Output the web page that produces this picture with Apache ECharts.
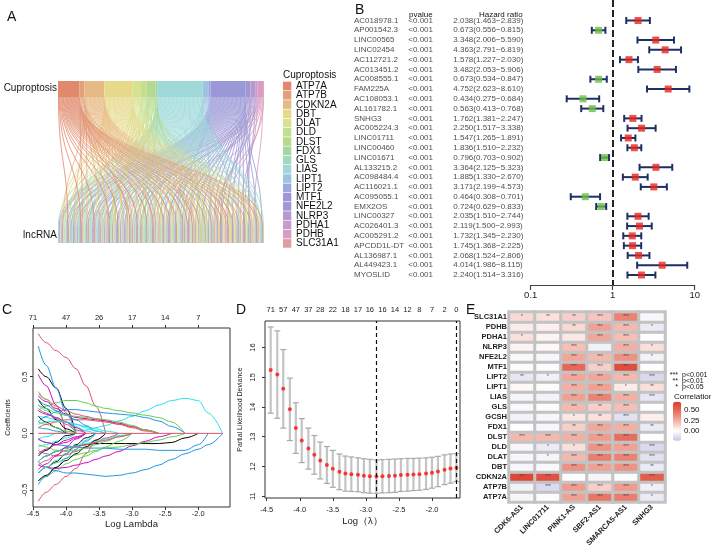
<!DOCTYPE html>
<html>
<head>
<meta charset="utf-8">
<script src="https://cdn.jsdelivr.net/npm/echarts@6/dist/echarts.min.js"></script>
<style>
  html, body { margin: 0; padding: 0; background: #fff; }
  #chart { width: 711px; height: 545px; }
</style>
</head>
<body>
<div id="chart"></div>
<script>
// ---------- A: cuproptosis genes -> lncRNA (alluvial)
const genes = ['ATP7A', 'ATP7B', 'CDKN2A', 'DBT', 'DLAT', 'DLD', 'DLST', 'FDX1', 'GLS', 'LIAS',
  'LIPT1', 'LIPT2', 'MTF1', 'NFE2L2', 'NLRP3', 'PDHA1', 'PDHB', 'SLC31A1'];
const geneColors = ['#E0896C', '#E4A07C', '#E7B985', '#E6D98C', '#D6E290', '#C3DE8E', '#B5D98E', '#A6D6A0',
  '#A0D8C0', '#9ED9D8', '#9EC2E2', '#9DA9DE', '#9A98D6', '#A297D2', '#B49ACE', '#C79CCD', '#D99CC5', '#E09CA3'];
const lncCount = 100;
// which lncRNAs (0..99, left to right at the bottom) each gene is linked to
const geneTargets = [
  [4, 10, 16, 24, 28, 34, 38, 43, 46, 51, 54, 57, 60, 62, 64, 67, 70, 73, 76, 78, 81, 84, 87, 90, 93, 96, 99],
  [11, 33, 47, 65, 80, 97],
  [2, 7, 13, 19, 23, 27, 31, 35, 40, 45, 49, 53, 56, 59, 63, 65, 68, 71, 74, 77, 80, 83, 86, 89, 94],
  [1, 2, 5, 8, 11, 14, 17, 20, 22, 26, 30, 33, 36, 39, 41, 44, 47, 50, 52, 55, 58, 61, 63, 66, 69, 72, 75, 76, 79, 82, 85, 88, 91, 94, 97],
  [3, 12, 21, 29, 37, 48, 57, 66, 79, 88, 95],
  [9, 26, 41, 55, 68, 85, 92],
  [6, 14, 25, 32, 42, 50, 61, 70, 82, 91, 98],
  [24, 69],
  [43],
  [0, 2, 3, 5, 6, 8, 9, 11, 12, 14, 15, 17, 18, 20, 22, 24, 26, 28, 30, 32, 34, 36, 38, 39, 41, 43, 44, 46, 47, 49,
    51, 52, 54, 55, 57, 58, 60, 61, 63, 64, 66, 67, 69, 70, 72, 73, 75, 78, 81, 84, 87, 90, 93, 96, 97, 99],
  [1, 18, 30, 44, 58, 72, 86, 95],
  [13, 56],
  [0, 1, 3, 4, 6, 7, 9, 10, 12, 13, 15, 16, 18, 19, 21, 23, 25, 27, 29, 31, 33, 35, 37, 40, 42, 45, 48, 50, 53, 56,
    59, 62, 65, 68, 71, 74, 77, 80, 83, 86, 89, 92, 95, 98],
  [5, 27, 39, 60, 77, 91],
  [8, 22, 36, 52, 75, 89],
  [20, 53, 87],
  [0, 15, 31, 46, 62, 79, 94],
  [74]
];

// ---------- B: univariate Cox
const lncNames = ['AC018978.1', 'AP001542.3', 'LINC00565', 'LINC02454', 'AC112721.2', 'AC013451.2', 'AC008555.1',
  'FAM225A', 'AC108053.1', 'AL161782.1', 'SNHG3', 'AC005224.3', 'LINC01711', 'LINC00460', 'LINC01671', 'AL133215.2',
  'AC098484.4', 'AC116021.1', 'AC095055.1', 'EMX2OS', 'LINC00327', 'AC026401.3', 'AC005291.2', 'APCDD1L-DT',
  'AL136987.1', 'AL449423.1', 'MYOSLID'];
const pvalueText = ['<0.001', '<0.001', '<0.001', '<0.001', '<0.001', '<0.001', '<0.001', '<0.001', '<0.001',
  '<0.001', '<0.001', '<0.001', '<0.001', '<0.001', '<0.001', '<0.001', '<0.001', '<0.001', '<0.001', '<0.001',
  '<0.001', '<0.001', '<0.001', '<0.001', '<0.001', '<0.001', '<0.001'];
const hr = [2.038, 0.673, 3.348, 4.363, 1.578, 3.482, 0.673, 4.752, 0.434, 0.563, 1.762, 2.250, 1.547, 1.836, 0.796,
  3.364, 1.885, 3.171, 0.464, 0.724, 2.035, 2.119, 1.732, 1.745, 2.068, 4.014, 2.240];
const hrLow = [1.463, 0.556, 2.006, 2.791, 1.227, 2.053, 0.534, 2.623, 0.275, 0.413, 1.381, 1.517, 1.265, 1.510, 0.703,
  2.125, 1.330, 2.199, 0.308, 0.629, 1.510, 1.500, 1.345, 1.368, 1.524, 1.986, 1.514];
const hrHigh = [2.839, 0.815, 5.590, 6.819, 2.030, 5.906, 0.847, 8.610, 0.684, 0.768, 2.247, 3.338, 1.891, 2.232, 0.902,
  5.323, 2.670, 4.573, 0.701, 0.833, 2.744, 2.993, 2.230, 2.225, 2.806, 8.115, 3.316];

// ---------- C: LASSO coefficient paths
const lambdaGrid = [-4.42, -4.3, -4.15, -4.0, -3.85, -3.7, -3.55, -3.4, -3.2, -3.0, -2.8, -2.6, -2.4, -2.2, -2.0, -1.85, -1.63];
const coefPaths = [
  [0.57, 0.5, 0.4, 0.22, 0],
  [0.88, 0.8, 0.73, 0.67, 0.57, 0.42, 0.24, 0],
  [0.2, 0.24, 0.27, 0.29, 0.29, 0.27, 0.24, 0.22, 0.2, 0.18, 0.16, 0.14, 0.1, 0],
  [0.77, 0.6, 0.4, 0.18, 0],
  [-0.05, -0.03, 0, 0.01, 0.02, 0.03, 0.05, 0.07, 0.11, 0.15, 0.2, 0.25, 0.29, 0.31, 0.29, 0.18, 0],
  [0.52, 0.42, 0.25, 0],

  [-0.25, -0.2, -0.16, -0.13, -0.11, -0.1, -0.09, -0.09, -0.09, -0.09, -0.09, -0.09, -0.08, -0.04, 0],
  [-0.6, -0.52, -0.45, -0.38, -0.31, -0.18, -0.06, 0],
  [-0.42, -0.38, -0.33, -0.27, -0.23, -0.2, -0.16, -0.12, -0.07, 0],
  [-0.25, -0.3, -0.33, -0.35, -0.35, -0.36, -0.37, -0.38, -0.37, -0.35, -0.32, -0.28, -0.23, -0.18, -0.14, -0.1, 0],
  [0.15, 0.14, 0.12, 0.1, 0.08, 0.06, 0.04, 0.02, 0],
  [-0.28, -0.3, -0.31, -0.3, -0.28, -0.26, -0.23, -0.2, -0.16, -0.11, -0.07, -0.03, 0],

  [0.3, 0.22, 0.12, 0.04, 0],
  [0.35, 0.3, 0.24, 0.2, 0.17, 0.15, 0.13, 0.11, 0.08, 0.05, 0.02, 0],
  [0.37, 0.3, 0.2, 0.1, 0],
  [0.1, 0.15, 0.19, 0.21, 0.21, 0.2, 0.19, 0.18, 0.17, 0.16, 0.14, 0.11, 0.06, 0],
  [-0.12, -0.1, -0.07, -0.04, 0],
  [0.33, 0.28, 0.22, 0.17, 0.14, 0.13, 0.12, 0.11, 0.09, 0.06, 0.03, 0],

  [-0.35, -0.3, -0.25, -0.18, -0.1, -0.04, 0],
  [0.22, 0.18, 0.13, 0.08, 0.03, 0],
  [-0.35, -0.3, -0.26, -0.22, -0.19, -0.17, -0.15, -0.13, -0.12, -0.1, -0.08, -0.06, -0.03, 0],
  [-0.05, -0.08, -0.1, -0.11, -0.12, -0.13, -0.13, -0.13, -0.14, -0.14, -0.14, -0.15, -0.15, -0.15, -0.1, 0],
  [0.25, 0.2, 0.14, 0.1, 0.06, 0.02, 0],
  [-0.18, -0.14, -0.1, -0.06, -0.03, 0],

  [0.15, 0.1, 0.05, 0],
  [-0.15, -0.18, -0.2, -0.19, -0.16, -0.12, -0.08, -0.04, 0],
  [0.1, 0.08, 0.05, 0.02, 0],
  [-0.45, -0.38, -0.3, -0.22, -0.14, -0.07, 0],
  [-0.25, -0.2, -0.16, -0.13, -0.11, -0.09, -0.07, -0.05, -0.02, 0],
  [0.2, 0.17, 0.14, 0.1, 0.05, 0],

  [-0.42, -0.37, -0.3, -0.24, -0.18, -0.12, -0.06, 0],
  [0.05, 0.08, 0.1, 0.12, 0.12, 0.12, 0.11, 0.1, 0.08, 0.06, 0.03, 0],
  [-0.1, -0.12, -0.15, -0.16, -0.15, -0.13, -0.1, -0.07, -0.03, 0],
  [0.3, 0.25, 0.2, 0.16, 0.12, 0.07, 0.02, 0],
  [-0.35, -0.3, -0.24, -0.18, -0.12, -0.06, 0],
  [-0.05, -0.08, -0.1, -0.08, -0.04, 0],

  [-0.2, -0.15, -0.08, -0.02, 0],
  [-0.28, -0.24, -0.19, -0.15, -0.12, -0.1, -0.08, -0.06, -0.03, 0],
  [0.25, 0.22, 0.18, 0.16, 0.15, 0.14, 0.13, 0.12, 0.1, 0.07, 0.03, 0],
  [0.05, 0.04, 0.02, 0],
  [0.08, 0.1, 0.11, 0.1, 0.08, 0.05, 0.02, 0],
  [-0.32, -0.27, -0.2, -0.12, -0.05, 0]
];
const zeroPath = [0, 0, 0, 0, 0, 0, 0, 0, 0, 0, 0, 0, 0, 0, 0, 0, 0];
const coefTicks = [-4.5, -4.0, -3.5, -3.0, -2.5, -2.0];
const coefDf = ['71', '47', '26', '17', '14', '7'];
const rPalette = ['#000000', '#DF536B', '#61D04F', '#2297E6', '#28E2E5', '#CD0BBC'];

// ---------- D: cross validation
const cvLogLambda = [-4.44, -4.34, -4.25, -4.15, -4.06, -3.97, -3.87, -3.78, -3.69, -3.59, -3.50, -3.40, -3.31,
  -3.22, -3.12, -3.03, -2.94, -2.84, -2.75, -2.65, -2.56, -2.47, -2.37, -2.28, -2.19, -2.09, -2.00, -1.91, -1.81, -1.72, -1.63];
const cvMean = [15.24, 15.09, 14.61, 13.92, 13.29, 12.87, 12.60, 12.39, 12.20, 12.05, 11.92, 11.82, 11.76, 11.74,
  11.72, 11.69, 11.67, 11.66, 11.67, 11.68, 11.69, 11.71, 11.72, 11.73, 11.74, 11.76, 11.79, 11.83, 11.89, 11.93, 11.96];
const cvSe = [1.45, 1.47, 1.32, 1.05, 0.85, 0.74, 0.69, 0.65, 0.62, 0.62, 0.62, 0.60, 0.59, 0.58, 0.57, 0.57, 0.57,
  0.56, 0.56, 0.56, 0.56, 0.55, 0.55, 0.54, 0.54, 0.53, 0.52, 0.51, 0.50, 0.49, 0.47];
const cvDfLabels = ['71', '57', '47', '37', '28', '22', '18', '17', '16', '16', '14', '12', '8', '7', '2', '0'];
const cvLines = [-2.84, -1.63];

// ---------- E: correlation heatmap (rows bottom -> top)
const heatRows = ['ATP7A', 'ATP7B', 'CDKN2A', 'DBT', 'DLAT', 'DLD', 'DLST', 'FDX1', 'GCSH', 'GLS', 'LIAS',
  'LIPT1', 'LIPT2', 'MTF1', 'NFE2L2', 'NLRP3', 'PDHA1', 'PDHB', 'SLC31A1'];
const heatCols = ['CDK6-AS1', 'LINC01711', 'PINK1-AS', 'SBF2-AS1', 'SMARCA5-AS1', 'SNHG3'];
const corrValues = [
  [-0.03, -0.01, 0.30, 0.45, 0.42, -0.08],
  [-0.05, -0.15, 0.32, 0.15, 0.32, -0.06],
  [0.65, 0.60, 0.00, -0.04, -0.01, 0.55],
  [-0.03, -0.02, 0.35, 0.30, 0.35, -0.08],
  [-0.03, -0.04, 0.22, 0.42, 0.40, -0.12],
  [-0.04, -0.08, 0.10, 0.35, 0.30, -0.15],
  [0.22, 0.22, 0.25, 0.32, 0.48, 0.00],
  [0.00, -0.03, 0.15, 0.28, 0.25, -0.08],
  [-0.05, -0.03, 0.08, 0.10, -0.12, 0.05],
  [-0.02, -0.01, 0.22, 0.15, 0.20, 0.00],
  [-0.04, -0.05, 0.30, 0.40, 0.25, -0.10],
  [0.02, -0.01, 0.25, 0.30, 0.06, 0.10],
  [-0.10, -0.06, 0.28, 0.28, 0.22, -0.15],
  [-0.01, -0.01, 0.50, 0.15, 0.62, 0.00],
  [-0.02, -0.03, 0.28, 0.22, 0.35, -0.05],
  [0.04, 0.02, 0.20, -0.05, 0.25, 0.10],
  [0.10, 0.04, 0.07, 0.28, 0.20, 0.00],
  [0.06, 0.05, 0.12, 0.30, 0.22, -0.08],
  [0.12, 0.10, 0.15, 0.18, 0.40, -0.03]
];
const corrStars = [
  ['', '', '***', '***', '***', '*'],
  ['', '***', '***', '***', '***', '*'],
  ['***', '***', '', '', '', '***'],
  ['', '', '***', '***', '***', '**'],
  ['', '*', '***', '***', '***', '***'],
  ['', '*', '*', '***', '***', '***'],
  ['***', '***', '***', '***', '***', ''],
  ['', '', '**', '***', '***', '**'],
  ['', '', '*', '**', '***', ''],
  ['', '', '***', '**', '***', ''],
  ['', '', '***', '***', '***', '***'],
  ['', '', '***', '***', '*', '**'],
  ['**', '*', '***', '***', '***', '***'],
  ['', '', '***', '***', '***', ''],
  ['', '', '***', '***', '***', '*'],
  ['', '', '***', '', '***', '*'],
  ['*', '', '', '***', '***', ''],
  ['', '', '**', '***', '***', '*'],
  ['*', '**', '**', '***', '***', '']
];
const corrTicks = [0.5, 0.25, 0];
const starKeys = ['***', '**', '*'];
const starNotes = ['p<0.001', 'p<0.01', 'p<0.05'];

const FONT = 'Liberation Sans, Arial, sans-serif';

// ---- build sankey nodes / links
const sankeyNodes = [];
const sankeyLinks = [];
genes.forEach(function (g, gi) {
  sankeyNodes.push({ name: g, itemStyle: { color: geneColors[gi] } });
});
for (let i = 0; i < lncCount; i++) {
  genes.forEach(function (g, gi) {
    if (geneTargets[gi].indexOf(i) >= 0) {
      const lode = 'lnc' + (i + 1) + '|' + g;
      sankeyNodes.push({ name: lode, itemStyle: { color: geneColors[gi] } });
      sankeyLinks.push({ source: g, target: lode, value: 1 });
    }
  });
}

// ---- renderers
function renderForestBar(params, api) {
  const lo = api.coord([api.value(0), api.value(2)]);
  const hi = api.coord([api.value(1), api.value(2)]);
  const cap = 3.5;
  const style = { stroke: '#1E2F63', lineWidth: 2 };
  return {
    type: 'group',
    children: [
      { type: 'line', shape: { x1: lo[0], y1: lo[1], x2: hi[0], y2: hi[1] }, style: style },
      { type: 'line', shape: { x1: lo[0], y1: lo[1] - cap, x2: lo[0], y2: lo[1] + cap }, style: style },
      { type: 'line', shape: { x1: hi[0], y1: hi[1] - cap, x2: hi[0], y2: hi[1] + cap }, style: style }
    ]
  };
}

function renderCvBar(params, api) {
  const top = api.coord([api.value(0), api.value(2)]);
  const bot = api.coord([api.value(0), api.value(1)]);
  const w = 3;
  const capStyle = { stroke: '#A9A9A9', lineWidth: 1.2 };
  return {
    type: 'group',
    children: [
      { type: 'line', shape: { x1: top[0], y1: top[1], x2: bot[0], y2: bot[1] }, style: { stroke: '#C4C4C4', lineWidth: 2.2 } },
      { type: 'line', shape: { x1: top[0] - w, y1: top[1], x2: top[0] + w, y2: top[1] }, style: capStyle },
      { type: 'line', shape: { x1: bot[0] - w, y1: bot[1], x2: bot[0] + w, y2: bot[1] }, style: capStyle }
    ]
  };
}

// ---- C series
const coefSeries = coefPaths.map(function (path, pi) {
  return {
    type: 'line',
    xAxisIndex: 2,
    yAxisIndex: 2,
    data: path.map(function (v, j) { return [lambdaGrid[j], v]; }),
    showSymbol: false,
    smooth: 0.35,
    smoothMonotone: 'x',
    silent: true,
    lineStyle: { width: 1, color: rPalette[pi % rPalette.length] },
    z: 3
  };
});
coefSeries.push({
  type: 'line',
  xAxisIndex: 2,
  yAxisIndex: 2,
  data: zeroPath.map(function (v, j) { return [lambdaGrid[j], v]; }),
  showSymbol: false,
  silent: true,
  lineStyle: { width: 1, color: '#DF536B' },
  z: 4
});

// ---- B table series
function tableSeries(xPos, texts) {
  return {
    type: 'scatter',
    xAxisIndex: 1,
    yAxisIndex: 1,
    symbolSize: 0,
    silent: true,
    itemStyle: { color: 'rgba(0,0,0,0)' },
    data: texts.map(function (t, i) { return [xPos, i]; }),
    label: {
      show: true,
      position: 'right',
      distance: 0,
      fontSize: 8,
      fontFamily: FONT,
      color: '#1a1a1a',
      formatter: function (p) { return texts[p.dataIndex]; }
    }
  };
}
const hrText = hr.map(function (v, i) {
  return v.toFixed(3) + '(' + hrLow[i].toFixed(3) + '\u2212' + hrHigh[i].toFixed(3) + ')';
});

const cvEven = cvLogLambda.filter(function (v, i) { return i % 2 === 0; });

// ---- graphic: labels, legends
const graphics = [];
function addText(text, x, y, size, opts) {
  graphics.push(Object.assign({
    type: 'text', x: x, y: y, silent: true,
    style: Object.assign({
      text: text, fontSize: size, fontFamily: FONT, fill: '#111',
      textAlign: 'left', textVerticalAlign: 'middle'
    }, opts || {})
  }));
}
addText('A', 7, 17, 14);
addText('B', 355, 10, 14);
addText('C', 2, 310, 14);
addText('D', 236, 310, 14);
addText('E', 466, 310, 14);
addText('Cuproptosis', 57, 88, 10, { textAlign: 'right' });
addText('lncRNA', 57, 235, 10, { textAlign: 'right' });
addText('Cuproptosis', 283, 75, 10);
genes.forEach(function (g, i) {
  const y = 81.7 + i * 9.26;
  graphics.push({ type: 'rect', silent: true, shape: { x: 283, y: y, width: 8.3, height: 8.6 }, style: { fill: geneColors[i] } });
  addText(g, 296, y + 4.6, 10);
});
addText('pvalue', 409, 15, 8);
addText('Hazard ratio', 479, 15, 8);
starKeys.forEach(function (s, i) {
  addText(s, 678, 375 + i * 6, 7, { textAlign: 'right' });
  addText(starNotes[i], 682, 375 + i * 6, 7);
});
addText('Correlation', 674, 397, 8);
corrTicks.forEach(function (v) {
  addText(v.toFixed(2), 684, 401.7 + (0.7 - v) * 42, 8);
});

const heatData = [];
corrValues.forEach(function (row, ri) {
  row.forEach(function (v, ci) {
    heatData.push({ value: [ci, ri, v], stars: corrStars[ri][ci] });
  });
});

const axisText = { fontSize: 7.5, fontFamily: FONT, color: '#222' };

const option = {
  animation: false,
  backgroundColor: '#fff',
  textStyle: { fontFamily: FONT },
  graphic: graphics,
  grid: [
    { left: 530.7, top: 0, width: 164, height: 285, outerBoundsMode: 'none' },
    { left: 354, top: 0, width: 100, height: 285, outerBoundsMode: 'none' },
    { left: 33, top: 328, width: 197, height: 179, show: true, borderColor: '#333', borderWidth: 1, outerBoundsMode: 'none' },
    { left: 265, top: 321, width: 195, height: 177, show: true, borderColor: '#333', borderWidth: 1, outerBoundsMode: 'none' },
    { left: 509, top: 312, width: 156, height: 190, show: true, backgroundColor: '#C3C3C3', borderWidth: 0, outerBoundsMode: 'none' }
  ],
  xAxis: [
    {
      gridIndex: 0, type: 'log', logBase: 10, min: 0.1, max: 10, position: 'bottom',
      axisLine: { show: true, onZero: false, lineStyle: { color: '#444', width: 1.2 } },
      axisTick: { show: true, length: 5, lineStyle: { color: '#444', width: 1.2 } },
      axisLabel: { fontSize: 9.5, fontFamily: FONT, color: '#222', margin: 5 },
      splitLine: { show: false }
    },
    { gridIndex: 1, type: 'value', min: 0, max: 1, show: false },
    {
      gridIndex: 2, type: 'value', min: -4.5, max: -1.52, position: 'bottom',
      axisLine: { show: false, onZero: false },
      axisTick: { show: true, length: 3, customValues: coefTicks, lineStyle: { color: '#333' } },
      axisLabel: Object.assign({ customValues: coefTicks, margin: 3, formatter: function (v) { return v.toFixed(1); } }, axisText),
      splitLine: { show: false },
      name: 'Log Lambda', nameLocation: 'middle', nameGap: 10,
      nameTextStyle: { fontSize: 9.5, fontFamily: FONT, color: '#222' }
    },
    {
      gridIndex: 2, type: 'value', min: -4.5, max: -1.52, position: 'top',
      axisLine: { show: false, onZero: false },
      axisTick: { show: true, length: 3, customValues: coefTicks, lineStyle: { color: '#333' } },
      axisLabel: Object.assign({
        customValues: coefTicks, margin: 6,
        formatter: function (v) { return coefDf[coefTicks.indexOf(v)]; }
      }, axisText),
      splitLine: { show: false }
    },
    {
      gridIndex: 3, type: 'value', min: -4.526, max: -1.576, position: 'bottom',
      axisLine: { show: false, onZero: false },
      axisTick: { show: true, length: 3, customValues: coefTicks, lineStyle: { color: '#333' } },
      axisLabel: Object.assign({ customValues: coefTicks, margin: 8, formatter: function (v) { return v.toFixed(1); } }, axisText),
      splitLine: { show: false },
      name: 'Log\uff08\u03bb\uff09', nameLocation: 'middle', nameGap: 18,
      nameTextStyle: { fontSize: 9.5, fontFamily: FONT, color: '#222' }
    },
    {
      gridIndex: 3, type: 'value', min: -4.526, max: -1.576, position: 'top',
      axisLine: { show: false, onZero: false },
      axisTick: { show: false },
      axisLabel: Object.assign({
        customValues: cvEven, margin: 7,
        formatter: function (v) { return cvDfLabels[cvEven.indexOf(v)]; }
      }, axisText),
      splitLine: { show: false }
    },
    {
      gridIndex: 4, type: 'category', data: heatCols,
      axisLine: { show: false }, axisTick: { show: false },
      axisLabel: { rotate: 45, fontSize: 7.5, fontWeight: 'bold', fontFamily: FONT, color: '#222', margin: 4, interval: 0 }
    }
  ],
  yAxis: [
    { gridIndex: 0, type: 'value', inverse: true, min: -2.094, max: 27.02, show: false },
    { gridIndex: 1, type: 'value', inverse: true, min: -2.094, max: 27.02, show: false },
    {
      gridIndex: 2, type: 'value', min: -0.65, max: 0.93,
      axisLine: { show: false, onZero: false },
      axisTick: { show: true, length: 3, customValues: [-0.5, 0, 0.5], lineStyle: { color: '#333' } },
      axisLabel: Object.assign({ customValues: [-0.5, 0, 0.5], rotate: 90, margin: 4, formatter: function (v) { return v.toFixed(1); } }, axisText),
      splitLine: { show: false },
      name: 'Coefficients', nameLocation: 'middle', nameGap: 21,
      nameTextStyle: { fontSize: 7, fontFamily: FONT, color: '#222' }
    },
    {
      gridIndex: 3, type: 'value', min: 10.94, max: 16.89,
      axisLine: { show: false, onZero: false },
      axisTick: { show: true, length: 3, customValues: [11, 12, 13, 14, 15, 16], lineStyle: { color: '#333' } },
      axisLabel: Object.assign({ customValues: [11, 12, 13, 14, 15, 16], rotate: 90, margin: 8 }, axisText),
      splitLine: { show: false },
      name: 'Partial Likelihood Deviance', nameLocation: 'middle', nameGap: 21,
      nameTextStyle: { fontSize: 7, fontFamily: FONT, color: '#222' }
    },
    {
      gridIndex: 4, type: 'category', data: heatRows,
      axisLine: { show: false }, axisTick: { show: false },
      axisLabel: { fontSize: 7.5, fontWeight: 'bold', fontFamily: FONT, color: '#222', margin: 2, interval: 0 }
    }
  ],
  visualMap: {
    type: 'continuous',
    seriesIndex: 0,
    dimension: 2,
    min: -0.23,
    max: 0.7,
    calculable: false,
    left: 673,
    top: 401.7,
    itemWidth: 8.3,
    itemHeight: 39,
    padding: 0,
    text: null,
    inRange: { color: ['#C6C6E5', '#FFFFFF', '#F4B3A8', '#E8705F', '#DB3A2D'] }
  },
  series: [
    {
      type: 'heatmap',
      xAxisIndex: 6,
      yAxisIndex: 4,
      data: heatData,
      silent: true,
      itemStyle: { borderColor: '#C3C3C3', borderWidth: 3 },
      label: {
        show: true, fontSize: 4.5, color: '#444', fontFamily: FONT,
        formatter: function (p) { return p.data.stars; }
      }
    },
    {
      type: 'sankey',
      left: 58, top: 81, width: 206, height: 162,
      orient: 'vertical',
      nodeWidth: 16,
      nodeGap: 0,
      layoutIterations: 0,
      draggable: false,
      silent: true,
      emphasis: { disabled: true },
      label: { show: false },
      data: sankeyNodes,
      links: sankeyLinks,
      itemStyle: { borderWidth: 0 },
      lineStyle: { color: 'source', opacity: 0.8, curveness: 0.5 }
    },
    {
      type: 'custom',
      xAxisIndex: 0,
      yAxisIndex: 0,
      renderItem: renderForestBar,
      encode: { x: [0, 1], y: 2 },
      silent: true,
      data: hr.map(function (v, i) { return [hrLow[i], hrHigh[i], i]; }),
      z: 3
    },
    {
      type: 'scatter',
      xAxisIndex: 0,
      yAxisIndex: 0,
      symbol: 'rect',
      symbolSize: 7,
      silent: true,
      data: hr.map(function (v, i) { return [v, i]; }),
      itemStyle: { color: function (p) { return p.value[0] > 1 ? '#E8251F' : '#6BBE45'; } },
      z: 4,
      markLine: {
        silent: true,
        symbol: ['none', 'none'],
        label: { show: false },
        lineStyle: { type: [7, 3], color: '#222', width: 2 },
        data: [{ xAxis: 1 }]
      }
    },
    tableSeries(0, lncNames),
    tableSeries(0.543, pvalueText),
    tableSeries(0.993, hrText),
    {
      type: 'custom',
      xAxisIndex: 4,
      yAxisIndex: 3,
      renderItem: renderCvBar,
      encode: { x: 0, y: [1, 2] },
      silent: true,
      data: cvMean.map(function (m, i) { return [cvLogLambda[i], m - cvSe[i], m + cvSe[i]]; }),
      z: 3
    },
    {
      type: 'scatter',
      xAxisIndex: 4,
      yAxisIndex: 3,
      symbol: 'circle',
      symbolSize: 4,
      silent: true,
      itemStyle: { color: '#FF1010' },
      data: cvMean.map(function (m, i) { return [cvLogLambda[i], m]; }),
      z: 4,
      markLine: {
        silent: true,
        symbol: ['none', 'none'],
        label: { show: false },
        lineStyle: { type: [4, 3], color: '#111', width: 1.2 },
        data: cvLines.map(function (v) { return { xAxis: v }; })
      }
    }
  ].concat(coefSeries)
};

const chart = echarts.init(document.getElementById('chart'));
chart.setOption(option);
</script>
</body>
</html>
